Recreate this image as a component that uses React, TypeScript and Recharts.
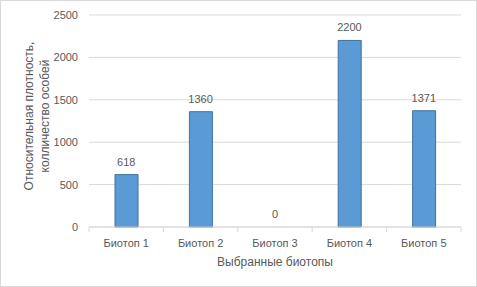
import { Bar, CartesianGrid, ComposedChart, LabelList, Line, XAxis, YAxis } from "recharts";

const categories = ["Биотоп 1", "Биотоп 2", "Биотоп 3", "Биотоп 4", "Биотоп 5"];
const density = [618, 1360, 0, 2200, 1371];
const yTicks = [0, 500, 1000, 1500, 2000, 2500];

const data = categories.map((name, i) => ({ name, value: density[i] }));

const FONT = "'Liberation Sans', Arial, sans-serif";
const TEXT = "#595959";
const GRID = "#d9d9d9";
const BAND = 74.4;

function CategoryTick(props: any) {
  const { x, y, payload, index } = props;
  return (
    <g>
      <line x1={x - BAND / 2} y1={y} x2={x - BAND / 2} y2={y + 5} stroke={GRID} />
      {index === categories.length - 1 && (
        <line x1={x + BAND / 2} y1={y} x2={x + BAND / 2} y2={y + 5} stroke={GRID} />
      )}
      <text x={x} y={y + 20} textAnchor="middle" fill={TEXT} fontSize={11} fontFamily={FONT}>
        {payload.value}
      </text>
    </g>
  );
}

function YTitle() {
  const cx = 36;
  const cy = 115;
  return (
    <text
      transform={`rotate(-90, ${cx}, ${cy})`}
      textAnchor="middle"
      fill={TEXT}
      fontSize={12}
      fontFamily={FONT}
    >
      <tspan x={cx} y={cy - 4}>Относительная плотность,</tspan>
      <tspan x={cx} y={cy + 12}>колличество особей</tspan>
    </text>
  );
}

export default function App() {
  return (
    <div
      style={{
        position: "absolute",
        left: 0,
        top: 0,
        width: 477,
        height: 287,
        border: `1px solid ${GRID}`,
        boxSizing: "border-box",
        background: "#fff",
      }}
    >
      <ComposedChart
        width={475}
        height={285}
        data={data}
        margin={{ top: 14, right: 15, bottom: 0, left: 0 }}
      >
        <CartesianGrid vertical={false} stroke={GRID} />
        <XAxis
          dataKey="name"
          axisLine={{ stroke: GRID }}
          tickLine={false}
          tickSize={0}
          tickMargin={0}
          height={59}
          tick={<CategoryTick />}
          label={{
            value: "Выбранные биотопы",
            position: "insideBottom",
            offset: 20,
            fill: TEXT,
            fontSize: 12,
            fontFamily: FONT,
          }}
        />
        <YAxis
          width={88}
          domain={[0, 2500]}
          ticks={yTicks}
          axisLine={false}
          tickLine={false}
          tickMargin={5}
          tick={{ fill: TEXT, fontSize: 11, fontFamily: FONT }}
          label={{ content: () => <YTitle /> }}
        />
        <Bar
          dataKey="value"
          fill="#5b9bd5"
          stroke="#41719c"
          strokeWidth={1}
          barSize={23}
          isAnimationActive={false}
        />
        <Line
          dataKey="value"
          stroke="none"
          dot={false}
          activeDot={false}
          legendType="none"
          isAnimationActive={false}
        >
          <LabelList
            dataKey="value"
            position="top"
            offset={9}
            fill={TEXT}
            fontSize={11}
            fontFamily={FONT}
          />
        </Line>
      </ComposedChart>
    </div>
  );
}
